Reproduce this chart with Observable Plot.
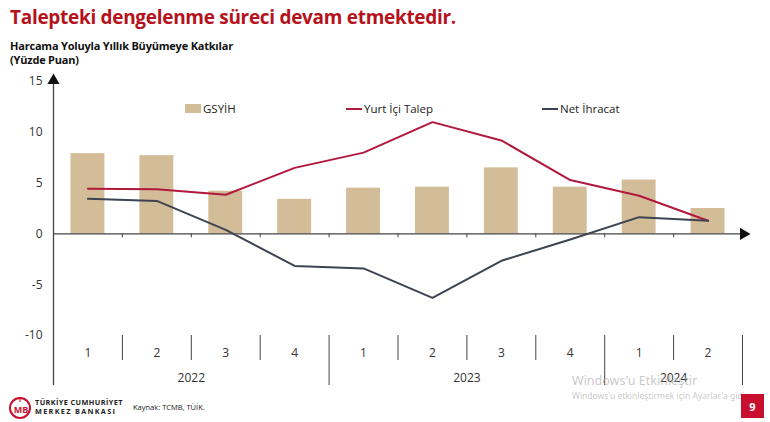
<!DOCTYPE html>
<html><head><meta charset="utf-8">
<script src="https://cdn.jsdelivr.net/npm/d3@7"></script>
<script src="https://cdn.jsdelivr.net/npm/@observablehq/plot@0.6"></script>
<style>
html,body{margin:0;padding:0;background:#fff;}
#wrap{position:relative;width:770px;height:422px;overflow:hidden;font-family:"Open Sans",sans-serif;}
#chart{position:absolute;left:0;top:0;}
.abs{position:absolute;white-space:nowrap;}
#title{left:10px;top:4px;font-size:19px;font-weight:700;color:#b5121b;letter-spacing:-0.3px;}
#sub{left:10px;top:39px;font-size:11px;font-weight:700;color:#111;line-height:14px;letter-spacing:-0.2px;}
.leg{top:101px;font-size:11.5px;color:#222;display:flex;align-items:center;}
.sw{display:inline-block;width:16px;margin-right:2px;}
#src{left:133px;top:402px;font-size:7.5px;color:#222;}
#bank{left:35px;top:398px;font-size:7.3px;font-weight:700;color:#222;line-height:9px;letter-spacing:0.4px;}
#bank span{letter-spacing:1.3px;}
#page{left:741px;top:394px;width:23px;height:24px;background:#c8102e;color:#fff;font-weight:700;font-size:11px;display:flex;align-items:center;justify-content:center;}
#wm1{left:572px;top:372px;font-size:12.5px;color:rgba(170,170,170,0.65);font-family:"Noto Sans",sans-serif;}
#wm2{left:572px;top:390px;font-size:8.5px;color:rgba(170,170,170,0.65);font-family:"Noto Sans",sans-serif;}
</style></head>
<body>
<div id="wrap">
  <div id="chart"></div>
  <div id="title" class="abs">Talepteki dengelenme süreci devam etmektedir.</div>
  <div id="sub" class="abs">Harcama Yoluyla Yıllık Büyümeye Katkılar<br>(Yüzde Puan)</div>
  <div class="abs leg" style="left:185px"><span class="sw" style="height:9px;background:#d3bc98"></span>GSYİH</div>
  <div class="abs leg" style="left:346px"><span class="sw" style="height:2px;background:#b0183d"></span>Yurt İçi Talep</div>
  <div class="abs leg" style="left:542px"><span class="sw" style="height:2px;background:#3d4450"></span>Net İhracat</div>
  <svg class="abs" style="left:7px;top:394px" width="26" height="26" viewBox="0 0 26 26">
    <circle cx="13" cy="14" r="10" fill="none" stroke="#c8102e" stroke-width="2"/>
    <text x="13" y="8" font-size="7" font-weight="700" fill="#c8102e" text-anchor="middle" font-family="Open Sans">T</text>
    <text x="14" y="19" font-size="9" font-weight="700" fill="#c8102e" text-anchor="middle" font-family="Open Sans">MB</text>
  </svg>
  <div id="bank" class="abs">TÜRKİYE CUMHURİYET<br><span>MERKEZ BANKASI</span></div>
  <div id="src" class="abs">Kaynak: TCMB, TÜİK.</div>
  <div id="wm1" class="abs">Windows'u Etkinleştir</div>
  <div id="wm2" class="abs">Windows'u etkinleştirmek için Ayarlar'a gidin.</div>
  <div id="page" class="abs">9</div>
</div>
<script>
const quarters = ["1","2","3","4","1","2","3","4","1","2"];
const years = ["2022","2023","2024"];
const yearStart = [0,4,8];
const yearEnd = [4,8,10];
const gdp = [7.9,7.7,4.2,3.4,4.5,4.6,6.5,4.6,5.3,2.5];
const domestic = [4.45,4.4,3.85,6.5,8.0,11.0,9.2,5.3,3.75,1.3];
const netExports = [3.45,3.25,0.4,-3.15,-3.4,-6.3,-2.65,-0.55,1.65,1.3];
const yTicks = [-10,-5,0,5,10,15];

const rows = quarters.map((q,i)=>({i, q, gdp:gdp[i], dom:domestic[i], nx:netExports[i]}));
const yearRows = years.map((y,k)=>({y, c:(yearStart[k]+yearEnd[k])/2}));
const bounds = d3.range(1, quarters.length+1);
const longB = new Set([...yearEnd, 0]);
const shortBounds = bounds.filter(b=>!longB.has(b));
const longBounds = [0, ...yearEnd];
const axisCol = "#444";

const plot = Plot.plot({
  width:770, height:422,
  marginTop:81, marginBottom:87, marginLeft:53, marginRight:28,
  style:{fontFamily:"Open Sans, sans-serif", fontSize:"12px", color:"#333", background:"transparent"},
  x:{type:"linear", domain:[0, quarters.length], axis:null},
  y:{domain:[-10,15], axis:null},
  marks:[
    Plot.rectY(rows, {x1:d=>d.i, x2:d=>d.i+1, y:"gdp", insetLeft:17.5, insetRight:17.5, fill:"#d3bc98"}),
    Plot.ruleY([0], {stroke:axisCol, strokeWidth:1.3}),
    Plot.ruleX(bounds, {y1:0, y2:0, insetBottom:-4, stroke:axisCol}),
    Plot.dot([quarters.length], {x:d=>d, y:0, symbol:"triangle", r:4.5, rotate:90, fill:"#111", stroke:null, dx:1}),
    Plot.lineY(rows, {x:d=>d.i+0.5, y:"dom", stroke:"#b0183d", strokeWidth:2}),
    Plot.lineY(rows, {x:d=>d.i+0.5, y:"nx", stroke:"#3d4450", strokeWidth:2}),
    Plot.ruleX(shortBounds, {y1:-10, y2:-10, insetBottom:-25, stroke:axisCol}),
    Plot.ruleX(longBounds.filter(b=>b>0), {y1:-10, y2:-10, insetBottom:-50, stroke:axisCol}),
    Plot.ruleX([0], {y1:15, y2:-10, insetBottom:-50, stroke:axisCol, strokeWidth:1.3}),
    Plot.dot([0], {x:d=>d, y:15, symbol:"triangle", r:4.5, fill:"#111", stroke:null, dy:-1}),
    Plot.axisY({ticks:yTicks, tickSize:0, tickPadding:11, tickFormat:d=>String(d), label:null, fontSize:12, fill:"#333"}),
    Plot.text(rows, {x:d=>d.i+0.5, y:-10, dy:18, text:"q", fontSize:12, fill:"#333"}),
    Plot.text(yearRows, {x:"c", y:-10, dy:43, text:"y", fontSize:12, fill:"#333"})
  ]
});
document.getElementById("chart").appendChild(plot);
</script>
</body></html>
